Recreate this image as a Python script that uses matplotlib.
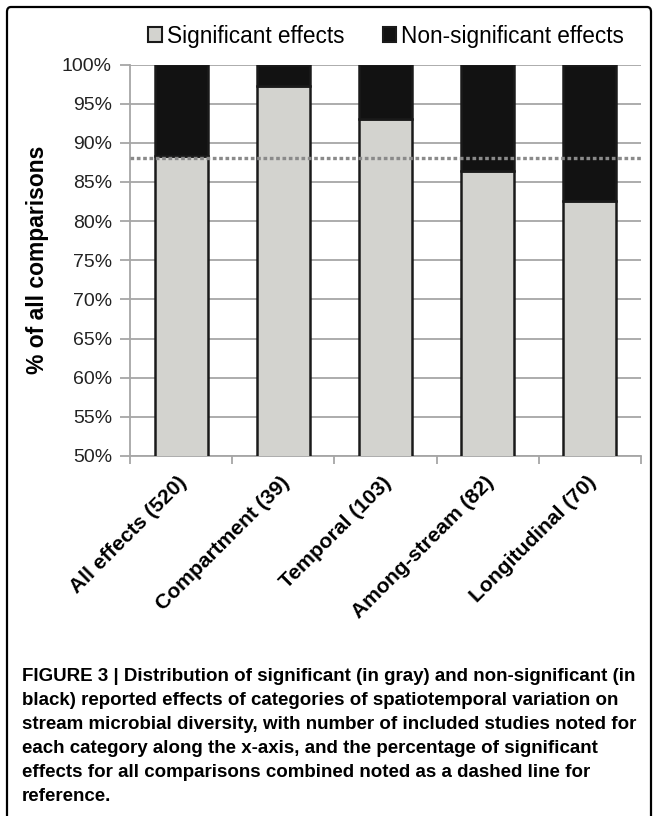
import matplotlib
matplotlib.use("Agg")
import matplotlib.pyplot as plt
from matplotlib.patches import Patch, FancyBboxPatch
import matplotlib.transforms as mtransforms

categories = ["All effects (520)", "Compartment (39)", "Temporal (103)",
              "Among-stream (82)", "Longitudinal (70)"]
significant = [88.3, 97.2, 93.0, 86.4, 82.6]
non_significant = [100 - v for v in significant]
overall_pct = 88.1
yticks = [50, 55, 60, 65, 70, 75, 80, 85, 90, 95, 100]
ytick_labels = [f"{t}%" for t in yticks]

caption = ("FIGURE 3 | Distribution of significant (in gray) and non-significant (in\n"
           "black) reported effects of categories of spatiotemporal variation on\n"
           "stream microbial diversity, with number of included studies noted for\n"
           "each category along the x-axis, and the percentage of significant\n"
           "effects for all comparisons combined noted as a dashed line for\n"
           "reference.")

plt.rcParams['font.family'] = ['Liberation Sans', 'DejaVu Sans']

W, H = 657, 816
fig = plt.figure(figsize=(W / 100, H / 100), dpi=100)
ax = fig.add_axes([130 / W, 1 - 456 / H, (641 - 130) / W, (456 - 64.5) / H])

gray_fill = "#d3d3cf"
black_fill = "#121212"
grid_col = "#a6a6a6"

x = list(range(len(categories)))
ax.bar(x, significant, width=0.52, bottom=0, color=gray_fill,
       edgecolor="#1a1a1a", linewidth=1.8, zorder=3)
ax.bar(x, non_significant, width=0.52, bottom=significant, color=black_fill,
       edgecolor="#1a1a1a", linewidth=1.8, zorder=3)
ax.axhline(overall_pct, color="#8a8a8a", linewidth=2.4,
           linestyle=(0, (1.1, 0.8)), zorder=5)

ax.set_ylim(50, 100)
ax.set_xlim(-0.5, 4.5)
ax.set_yticks(yticks)
ax.set_yticklabels(ytick_labels, fontsize=14, color="#222222")
ax.yaxis.grid(True, color=grid_col, linewidth=1.3, zorder=0)
ax.set_axisbelow(True)
ax.tick_params(axis='y', length=7, width=1.3, color=grid_col, pad=6)

ax.set_xticks(x)
ax.set_xticklabels(categories, rotation=45, ha='right', va='center',
                   rotation_mode='anchor', fontsize=15.2, fontweight='bold')
ax.set_xticks([i - 0.5 for i in range(len(categories) + 1)], minor=True)
ax.tick_params(axis='x', which='major', length=0, pad=17)
ax.tick_params(axis='x', which='minor', length=6, width=1.3, color=grid_col)
offset = mtransforms.ScaledTranslation(3 / 100, 0, fig.dpi_scale_trans)
for lab in ax.get_xticklabels():
    lab.set_transform(lab.get_transform() + offset)

for s in ['top', 'right']:
    ax.spines[s].set_visible(False)
for s in ['left', 'bottom']:
    ax.spines[s].set_color(grid_col)
    ax.spines[s].set_linewidth(1.3)

ax.set_ylabel("% of all comparisons", fontsize=16.5, fontweight='bold')
ax.yaxis.set_label_coords((49 - 130) / (641 - 130), 0.5)

handles = [Patch(facecolor=gray_fill, edgecolor="#1a1a1a", linewidth=1.5),
           Patch(facecolor=black_fill, edgecolor="#1a1a1a", linewidth=1.5)]
fig.legend(handles, ["Significant effects", "Non-significant effects"],
           loc='center', bbox_to_anchor=(386 / W, 1 - 36 / H), ncol=2,
           frameon=False, fontsize=16.3, handlelength=0.6, handleheight=0.6,
           handletextpad=0.2, columnspacing=1.7)

fig.text(22 / W, 1 - 668 / H, caption, ha='left', va='top', fontsize=13.5,
         fontweight='bold', linespacing=1.54,
         family=['Liberation Sans', 'DejaVu Sans'])

frame = FancyBboxPatch((7 / W, -0.05), (651 - 7) / W, 1.05 - 7 / H,
                       boxstyle="round,pad=0,rounding_size=0.006",
                       transform=fig.transFigure, facecolor='none',
                       edgecolor='black', linewidth=1.6, clip_on=False)
fig.patches.append(frame)

fig.savefig("out.png", dpi=100)
